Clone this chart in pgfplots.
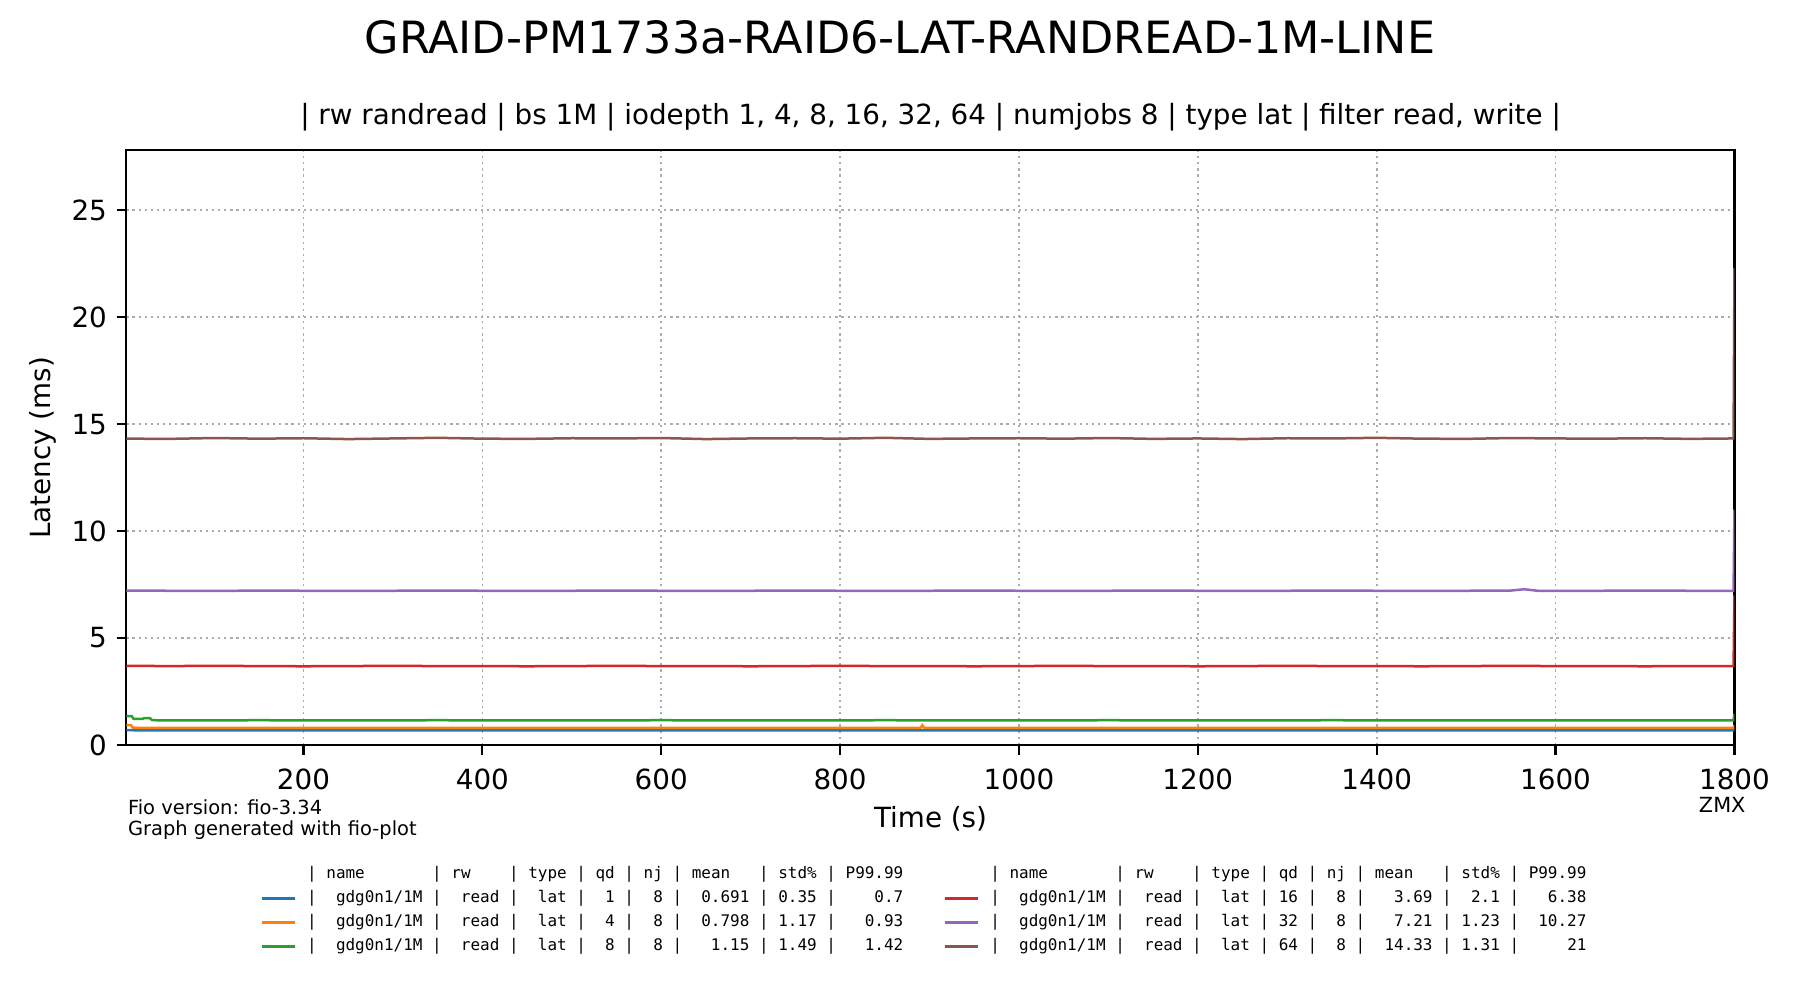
\documentclass[border=0pt]{standalone}
\usepackage{fontspec}
\setmainfont{DejaVu Sans}
\newfontfamily\mono[WordSpace={1,0,0}]{DejaVu Sans Mono}
\usepackage{pgfplots}
\pgfplotsset{compat=1.18}
\definecolor{c0}{HTML}{1F77B4}
\definecolor{c1}{HTML}{FF7F0E}
\definecolor{c2}{HTML}{2CA02C}
\definecolor{c3}{HTML}{D62728}
\definecolor{c4}{HTML}{9467BD}
\definecolor{c5}{HTML}{8C564B}
\begin{document}
\begin{tikzpicture}
\path[use as bounding box] (0,0) rectangle (648pt,360pt);
\begin{axis}[
  at={(45.5pt,91.8pt)}, anchor=south west,
  scale only axis, width=578.9pt, height=214.1pt,
  xmin=2, xmax=1800, ymin=0, ymax=27.8,
  xtick={200,400,...,1800}, ytick={0,5,...,25},
  /pgf/number format/1000 sep={},
  /pgf/number format/assume math mode=true,
  tick label style={font=\fontsize{10}{12}\selectfont},
  xticklabel style={yshift=-1.5pt},
  tick pos=left, tick align=outside,
  major tick length=3.5pt,
  every tick/.style={black, line width=0.8pt},
  axis line style={line width=0.8pt},
  grid=major,
  major grid style={gray!65, line width=0.6pt, dash pattern=on 0.8pt off 1.4pt},
  every axis plot/.append style={line width=0.9pt},
  legend style={at={(axis description cs:0.0827,-0.2035)}, anchor=north west,
    draw=none, fill=none, inner sep=0pt, row sep=3.3pt,
    font=\mono\fontsize{5.75}{7}\selectfont,
    nodes={inner sep=0pt, text height=4.2pt, text depth=1.2pt},
    /tikz/every odd column/.append style={column sep=3.8pt},
    /tikz/every even column/.append style={column sep=14.3pt}},
  legend columns=2,
  legend cell align=left,
  legend image code/.code={\draw[#1] (0pt,0pt) -- (12pt,0pt);},
]
% blue qd1
\addplot[c0, forget plot] coordinates {
(2,0.70)(10,0.69)(50,0.69)(100,0.69)(150,0.69)(200,0.69)(250,0.69)(300,0.69)(350,0.69)(400,0.69)(450,0.69)(500,0.69)(550,0.69)(600,0.69)(650,0.69)(700,0.69)(750,0.69)(800,0.69)(850,0.69)(900,0.69)(950,0.69)(1000,0.69)(1050,0.69)(1100,0.69)(1150,0.69)(1200,0.69)(1250,0.69)(1300,0.69)(1350,0.69)(1400,0.69)(1450,0.69)(1500,0.69)(1550,0.69)(1600,0.69)(1650,0.69)(1700,0.69)(1750,0.69)(1799,0.69)(1800,0.70)};
% orange qd4
\addplot[c1, forget plot] coordinates {
(2,0.93)(7,0.93)(9,0.82)(12,0.80)(50,0.80)(100,0.80)(150,0.80)(200,0.80)(250,0.80)(300,0.80)(350,0.80)(400,0.80)(450,0.80)(500,0.80)(550,0.80)(600,0.80)(650,0.80)(700,0.80)(750,0.80)(800,0.80)(850,0.80)(890,0.80)(892,0.92)(894,0.80)(950,0.80)(1000,0.80)(1050,0.80)(1100,0.80)(1150,0.80)(1200,0.80)(1250,0.80)(1300,0.80)(1350,0.80)(1400,0.80)(1450,0.80)(1500,0.80)(1550,0.80)(1600,0.80)(1650,0.80)(1700,0.80)(1750,0.80)(1799,0.80)(1800,0.93)};
% green qd8
\addplot[c2, forget plot] coordinates {
(2,1.35)(8,1.35)(10,1.22)(20,1.22)(22,1.26)(28,1.26)(31,1.16)(50,1.15)(100,1.15)(150,1.16)(200,1.15)(250,1.15)(300,1.15)(350,1.16)(400,1.15)(450,1.15)(500,1.15)(550,1.15)(600,1.16)(650,1.15)(700,1.15)(750,1.15)(800,1.15)(850,1.16)(900,1.15)(950,1.15)(1000,1.15)(1050,1.15)(1100,1.16)(1150,1.15)(1200,1.15)(1250,1.15)(1300,1.15)(1350,1.16)(1400,1.15)(1450,1.15)(1500,1.15)(1550,1.15)(1600,1.15)(1650,1.15)(1700,1.15)(1750,1.15)(1799,1.15)(1800,1.45)};
% red qd16
\addplot[c3, forget plot] coordinates {
(2,3.70)(50,3.69)(100,3.70)(150,3.69)(200,3.68)(250,3.69)(300,3.70)(350,3.69)(400,3.69)(450,3.68)(500,3.69)(550,3.70)(600,3.69)(650,3.69)(700,3.68)(750,3.69)(800,3.70)(850,3.69)(900,3.69)(950,3.68)(1000,3.69)(1050,3.70)(1100,3.69)(1150,3.69)(1200,3.68)(1250,3.69)(1300,3.70)(1350,3.69)(1400,3.69)(1450,3.68)(1500,3.69)(1550,3.70)(1600,3.69)(1650,3.69)(1700,3.68)(1750,3.69)(1799,3.69)(1800,7.0)};
% purple qd32
\addplot[c4, forget plot] coordinates {
(2,7.22)(50,7.21)(100,7.20)(150,7.22)(200,7.21)(250,7.20)(300,7.21)(350,7.22)(400,7.21)(450,7.20)(500,7.21)(550,7.22)(600,7.21)(650,7.20)(700,7.21)(750,7.22)(800,7.21)(850,7.20)(900,7.21)(950,7.22)(1000,7.21)(1050,7.20)(1100,7.21)(1150,7.22)(1200,7.21)(1250,7.20)(1300,7.21)(1350,7.22)(1400,7.21)(1450,7.20)(1500,7.21)(1550,7.22)(1565,7.28)(1580,7.21)(1600,7.20)(1650,7.21)(1700,7.22)(1750,7.21)(1799,7.21)(1800,11.0)};
% brown qd64
\addplot[c5, forget plot] coordinates {
(2,14.32)(50,14.31)(100,14.35)(150,14.32)(200,14.34)(250,14.30)(300,14.33)(350,14.36)(400,14.32)(450,14.31)(500,14.34)(550,14.33)(600,14.35)(650,14.30)(700,14.33)(750,14.34)(800,14.32)(850,14.36)(900,14.31)(950,14.33)(1000,14.34)(1050,14.32)(1100,14.35)(1150,14.31)(1200,14.33)(1250,14.30)(1300,14.34)(1350,14.33)(1400,14.36)(1450,14.32)(1500,14.31)(1550,14.35)(1600,14.33)(1650,14.32)(1700,14.34)(1750,14.31)(1799,14.33)(1800,22.3)};
\addlegendimage{empty legend}
\addlegendentry{|~name~~~~~~~|~rw~~~~|~type~|~qd~|~nj~|~mean~~~|~std\%~|~P99.99}
\addlegendimage{empty legend}
\addlegendentry{|~name~~~~~~~|~rw~~~~|~type~|~qd~|~nj~|~mean~~~|~std\%~|~P99.99}
\addlegendimage{c0, line width=1.2pt}
\addlegendentry{|~~gdg0n1/1M~|~~read~|~~lat~|~~1~|~~8~|~~0.691~|~0.35~|~~~~0.7}
\addlegendimage{c3, line width=1.2pt}
\addlegendentry{|~~gdg0n1/1M~|~~read~|~~lat~|~16~|~~8~|~~~3.69~|~~2.1~|~~~6.38}
\addlegendimage{c1, line width=1.2pt}
\addlegendentry{|~~gdg0n1/1M~|~~read~|~~lat~|~~4~|~~8~|~~0.798~|~1.17~|~~~0.93}
\addlegendimage{c4, line width=1.2pt}
\addlegendentry{|~~gdg0n1/1M~|~~read~|~~lat~|~32~|~~8~|~~~7.21~|~1.23~|~~10.27}
\addlegendimage{c2, line width=1.2pt}
\addlegendentry{|~~gdg0n1/1M~|~~read~|~~lat~|~~8~|~~8~|~~~1.15~|~1.49~|~~~1.42}
\addlegendimage{c5, line width=1.2pt}
\addlegendentry{|~~gdg0n1/1M~|~~read~|~~lat~|~64~|~~8~|~~14.33~|~1.31~|~~~~~21}
\end{axis}
\node[font=\fontsize{16}{19}\selectfont] at (324pt,346.4pt) {GRAID-PM1733a-RAID6-LAT-RANDREAD-1M-LINE};
\node[font=\fontsize{10}{12}\selectfont] at (335pt,317.9pt) {| rw randread | bs 1M | iodepth 1, 4, 8, 16, 32, 64 | numjobs 8 | type lat | filter read, write |};
\node[font=\fontsize{10}{12}\selectfont, rotate=90] at (15.3pt,198.8pt) {Latency (ms)};
\node[font=\fontsize{10}{12}\selectfont] at (335pt,65.3pt) {Time (s)};
\node[font=\fontsize{7}{8.4}\selectfont, anchor=west, inner sep=0pt] at (45.9pt,69.4pt) {Fio version: fio-3.34};
\node[font=\fontsize{7}{8.4}\selectfont, anchor=west, inner sep=0pt] at (45.9pt,61.0pt) {Graph generated with fio-plot};
\node[font=\fontsize{7.5}{9}\selectfont, inner sep=0pt] at (620pt,70.3pt) {ZMX};
\end{tikzpicture}
\end{document}
